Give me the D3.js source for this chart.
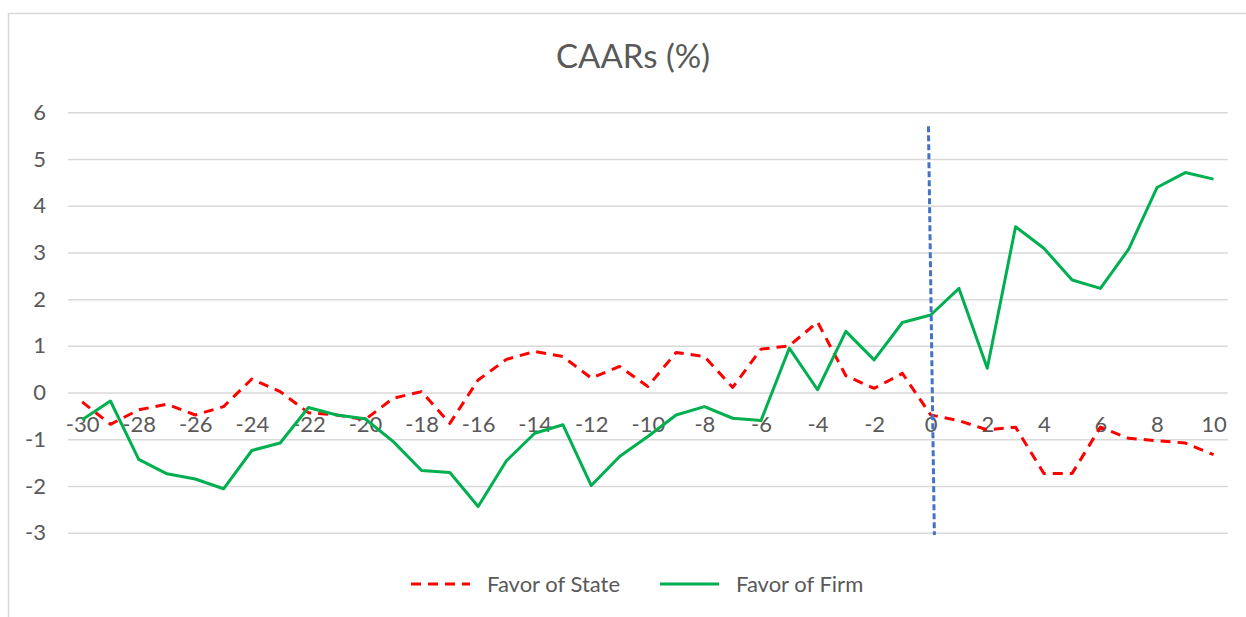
<!DOCTYPE html>
<html>
<head>
<meta charset="utf-8">
<script src="https://cdn.jsdelivr.net/npm/d3@7"></script>
<style>
  html, body { margin: 0; padding: 0; background: #fff; }
  svg { display: block; font-family: Lato, "Open Sans", sans-serif; }
</style>
</head>
<body>
<svg id="chart" width="1246" height="617"></svg>
<script>
const days = d3.range(-30, 11);
const favorState = [-0.2, -0.68, -0.37, -0.25, -0.48, -0.30, 0.29, 0.02, -0.43, -0.48, -0.58, -0.12, 0.02, -0.66, 0.27, 0.71, 0.88, 0.77, 0.31, 0.56, 0.13, 0.86, 0.77, 0.11, 0.93, 1.00, 1.51, 0.36, 0.09, 0.41, -0.48, -0.60, -0.80, -0.74, -1.73, -1.73, -0.74, -0.98, -1.03, -1.08, -1.33];
const favorFirm = [-0.58, -0.18, -1.43, -1.74, -1.85, -2.06, -1.24, -1.08, -0.32, -0.48, -0.56, -1.05, -1.67, -1.71, -2.44, -1.46, -0.87, -0.69, -1.99, -1.37, -0.94, -0.48, -0.30, -0.55, -0.60, 0.95, 0.06, 1.31, 0.70, 1.50, 1.66, 2.23, 0.52, 3.55, 3.09, 2.41, 2.23, 3.07, 4.39, 4.71, 4.57];
const xTickLabels = d3.range(-30, 11, 2);
const yTickLabels = [-3, -2, -1, 0, 1, 2, 3, 4, 5, 6];
const eventLineX = [-0.08, 0.13];
const eventLineY = [5.7, -3.05];
const seriesNames = ["Favor of State", "Favor of Firm"];
const title = "CAARs (%)";

const svg = d3.select("#chart");
const plotLeft = 68, plotRight = 1227.7, plotTop = 112.3, plotBottom = 532.7;
const step = (plotRight - plotLeft) / days.length;
const x = d3.scaleLinear().domain([-30, 10]).range([plotLeft + step / 2, plotRight - step / 2]);
const y = d3.scaleLinear().domain([-3, 6]).range([plotBottom, plotTop]);
const fmt = d => String(d);

// chart border
svg.append("rect").attr("x", 8.5).attr("y", 13.5).attr("width", 1260).attr("height", 640)
  .attr("fill", "none").attr("stroke", "#d9d9d9").attr("stroke-width", 1.5);

// title
svg.append("text").attr("x", 633).attr("y", 68).attr("text-anchor", "middle")
  .attr("font-size", 33).attr("fill", "#595959").text(title);

// gridlines
const yAxis = d3.axisLeft(y).tickValues(yTickLabels).tickSize(-(plotRight - plotLeft)).tickFormat(fmt);
const gy = svg.append("g").attr("transform", `translate(${plotLeft},0)`).call(yAxis);
gy.select(".domain").remove();
gy.selectAll(".tick line").attr("stroke", "#d9d9d9").attr("stroke-width", 1.5);
gy.selectAll(".tick text").attr("x", -22).attr("font-size", 22).attr("fill", "#595959")
  .style("font-family", "Lato, 'Open Sans', sans-serif");

// x axis labels at y=0
const xAxis = d3.axisBottom(x).tickValues(xTickLabels).tickSize(0).tickFormat(fmt);
const gx = svg.append("g").attr("transform", `translate(0,${y(0)})`).call(xAxis);
gx.select(".domain").remove();
gx.selectAll(".tick text").attr("dy", 0).attr("y", 39).attr("font-size", 22).attr("fill", "#595959")
  .style("font-family", "Lato, 'Open Sans', sans-serif");

const line = d3.line().x((d, i) => x(days[i])).y(d => y(d));

svg.append("path").datum(favorState).attr("d", line).attr("fill", "none")
  .attr("stroke", "#ff0000").attr("stroke-width", 3).attr("stroke-dasharray", "10,7")
  .attr("stroke-linejoin", "round");
svg.append("path").datum(favorFirm).attr("d", line).attr("fill", "none")
  .attr("stroke", "#00b050").attr("stroke-width", 3).attr("stroke-linejoin", "round");

// event line
svg.append("line").attr("x1", x(eventLineX[0])).attr("y1", y(eventLineY[0]))
  .attr("x2", x(eventLineX[1])).attr("y2", y(eventLineY[1]))
  .attr("stroke", "#4472c4").attr("stroke-width", 3).attr("stroke-dasharray", "6,3");

// legend
const legend = svg.append("g");
const legendItems = [
  {name: seriesNames[0], color: "#ff0000", dash: "10,7", x0: 411, tx: 487},
  {name: seriesNames[1], color: "#00b050", dash: null, x0: 660, tx: 736}
];
legendItems.forEach(it => {
  legend.append("line").attr("x1", it.x0).attr("x2", it.x0 + 59).attr("y1", 584).attr("y2", 584)
    .attr("stroke", it.color).attr("stroke-width", 3).attr("stroke-dasharray", it.dash);
  legend.append("text").attr("x", it.tx).attr("y", 592).attr("font-size", 22).attr("fill", "#595959").text(it.name);
});
</script>
</body>
</html>
